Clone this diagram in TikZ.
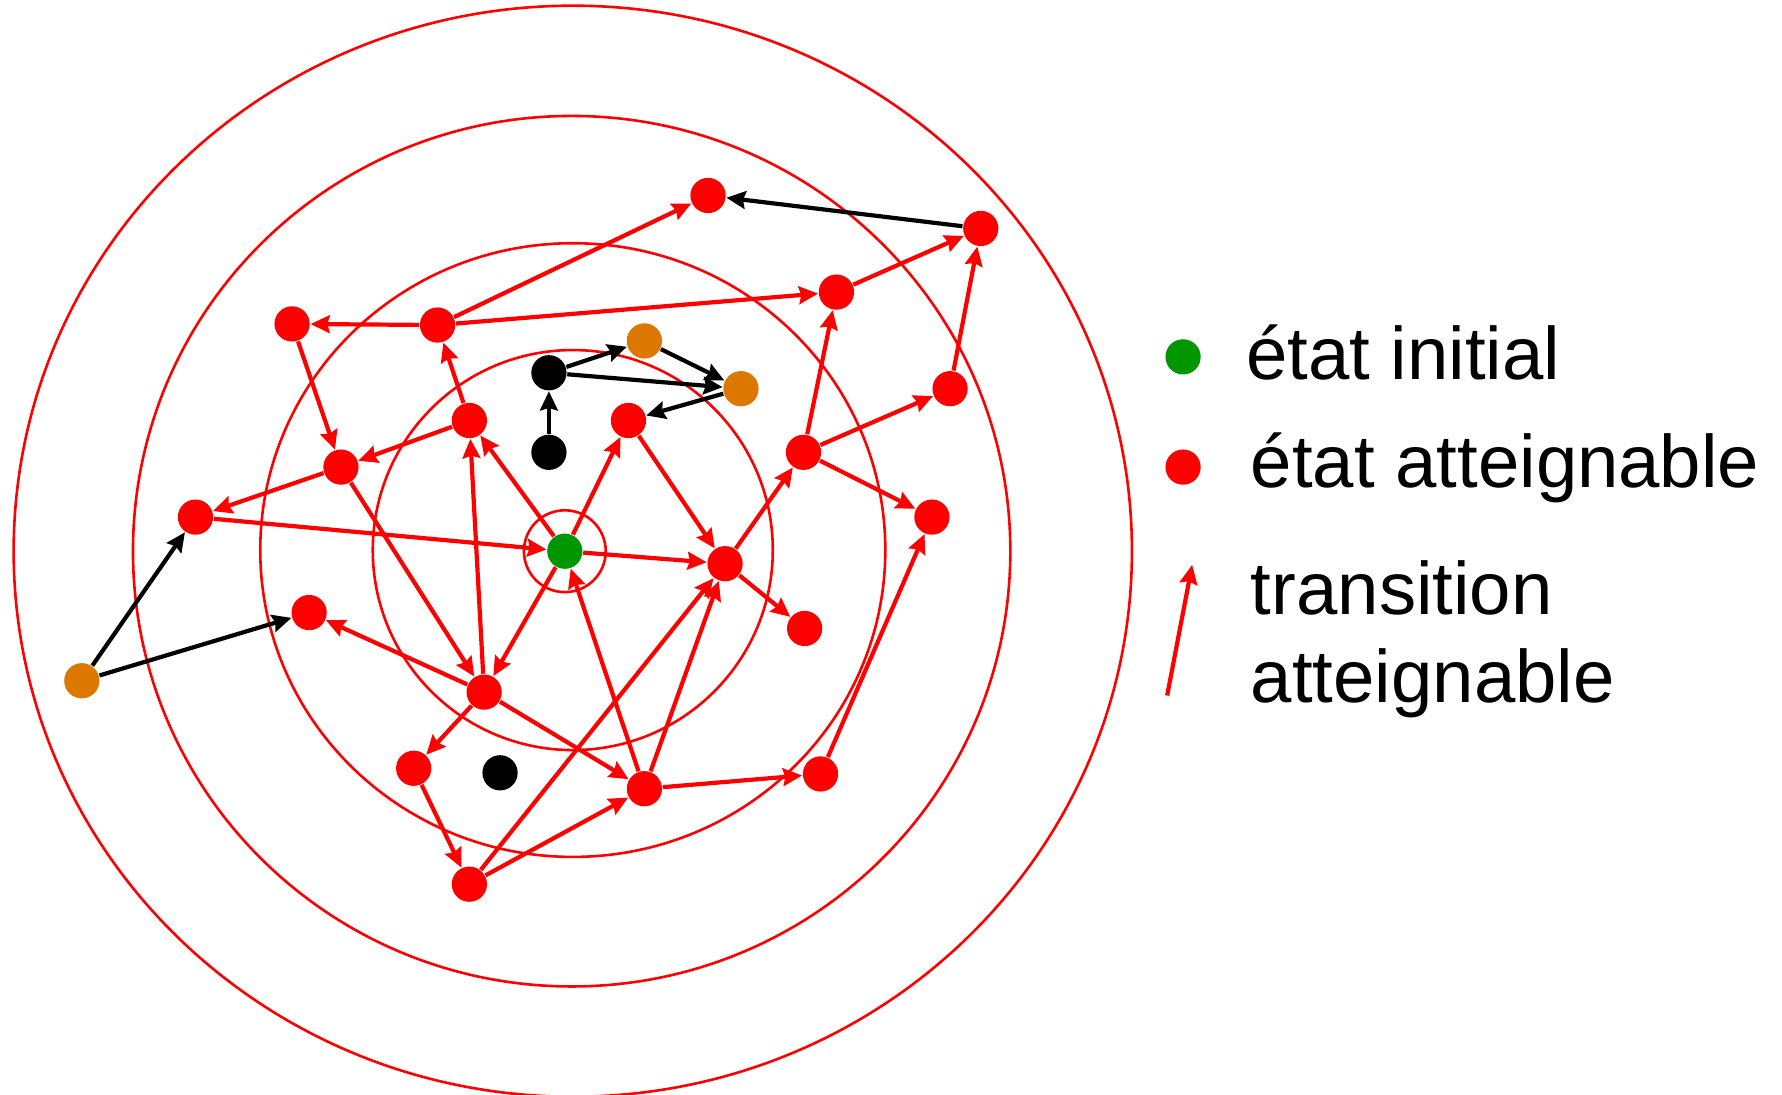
\documentclass[tikz,border=0pt]{standalone}
\usepackage{fontspec}
\setmainfont{Liberation Sans}
\usetikzlibrary{arrows.meta}
\definecolor{gr}{RGB}{0,150,0}
\definecolor{og}{RGB}{220,120,0}
\definecolor{rd}{RGB}{255,0,0}
\tikzset{
  st/.style={circle,inner sep=0pt,minimum size=0.31cm},
  rs/.style={st,fill=rd},
  gs/.style={st,fill=gr},
  bs/.style={st,fill=black},
  os/.style={st,fill=og},
  ring/.style={draw=rd,line width=0.65pt},
  tr/.style={draw=rd,line width=1.05pt,-{Stealth[length=4.8pt,width=4.4pt,inset=0.6pt]},rd},
  bt/.style={draw=black,line width=1.05pt,-{Stealth[length=4.8pt,width=4.4pt,inset=0.6pt]}},
  lg/.style={anchor=base west,font=\fontsize{18.6pt}{22pt}\selectfont,inner sep=0pt}
}
\begin{document}
\begin{tikzpicture}[x=0.01cm,y=-0.01cm]
\useasboundingbox (0,0) rectangle (1568,963);
% rings
\draw[ring] (504,485) ellipse [x radius=492,y radius=480];
\draw[ring] (503,485) ellipse [x radius=386,y radius=383];
\draw[ring] (504,484) ellipse [x radius=275,y radius=270];
\draw[ring] (504,484) ellipse [x radius=176,y radius=176];
\draw[ring] (497,485) circle [radius=36];
% nodes
\node[gs] (G) at (497,485) {};
\node[rs] (n1) at (623,172) {};
\node[rs] (n2) at (863,201) {};
\node[rs] (n3) at (736,257) {};
\node[rs] (n4) at (257,285) {};
\node[rs] (n5) at (385,286) {};
\node[rs] (n6) at (413,370) {};
\node[rs] (n7) at (553,370) {};
\node[rs] (n8) at (300,411) {};
\node[rs] (n9) at (172,455) {};
\node[rs] (n10) at (836,342) {};
\node[rs] (n11) at (707,398) {};
\node[rs] (n12) at (820,455) {};
\node[rs] (n13) at (638,496) {};
\node[rs] (n14) at (708,553) {};
\node[rs] (n15) at (272,539) {};
\node[rs] (n16) at (426,609) {};
\node[rs] (n17) at (364,676) {};
\node[rs] (n18) at (567,694) {};
\node[rs] (n19) at (722,681) {};
\node[rs] (n20) at (413,778) {};
\node[bs] (b1) at (483,328) {};
\node[bs] (b2) at (483,398) {};
\node[bs] (b3) at (440,680) {};
\node[os] (o1) at (567,300) {};
\node[os] (o2) at (652,342) {};
\node[os] (o3) at (72,599) {};
% red transitions
\draw[tr] (n5) -- (n4);
\draw[tr] (n5) -- (n1);
\draw[tr] (n5) -- (n3);
\draw[tr] (n4) -- (n8);
\draw[tr] (n6) -- (n5);
\draw[tr] (n6) -- (n8);
\draw[tr] (n8) -- (n9);
\draw[tr] (n8) -- (n16);
\draw[tr] (n9) -- (G);
\draw[tr] (G) -- (n6);
\draw[tr] (n16) -- (n6);
\draw[tr] (G) -- (n7);
\draw[tr] (G) -- (n16);
\draw[tr] (G) -- (n13);
\draw[tr] (n7) -- (n13);
\draw[tr] (n13) -- (n11);
\draw[tr] (n13) -- (n14);
\draw[tr] (n11) -- (n3);
\draw[tr] (n11) -- (n10);
\draw[tr] (n11) -- (n12);
\draw[tr] (n3) -- (n2);
\draw[tr] (n10) -- (n2);
\draw[tr] (n16) -- (n15);
\draw[tr] (n16) -- (n17);
\draw[tr] (n16) -- (n18);
\draw[tr] (n18) -- (G);
\draw[tr] (n18) -- (n13);
\draw[tr] (n18) -- (n19);
\draw[tr] (n19) -- (n12);
\draw[tr] (n17) -- (n20);
\draw[tr] (n20) -- (n18);
\draw[tr] (n20) -- (n13);
% black transitions
\draw[bt] (n2) -- (n1);
\draw[bt] (b2) -- (b1);
\draw[bt] (b1) -- (o1);
\draw[bt] (b1) -- (o2);
\draw[bt] (o1) -- (o2);
\draw[bt] (o2) -- (n7);
\draw[bt] (o3) -- (n9);
\draw[bt] (o3) -- (n15);
% legend
\node[gs] (lg1) at (1041,314) {};
\node[rs] (lg2) at (1041,411) {};
\coordinate (la) at (1027,612);
\coordinate (lb) at (1049,497);
\draw[tr] (la) -- (lb);
\node[lg] (t1) at (1096,334) {état initial};
\node[lg] (t2) at (1100,429) {état atteignable};
\node[lg] (t3) at (1100,541) {transition};
\node[lg] (t4) at (1100,618) {atteignable};
\end{tikzpicture}
\end{document}
